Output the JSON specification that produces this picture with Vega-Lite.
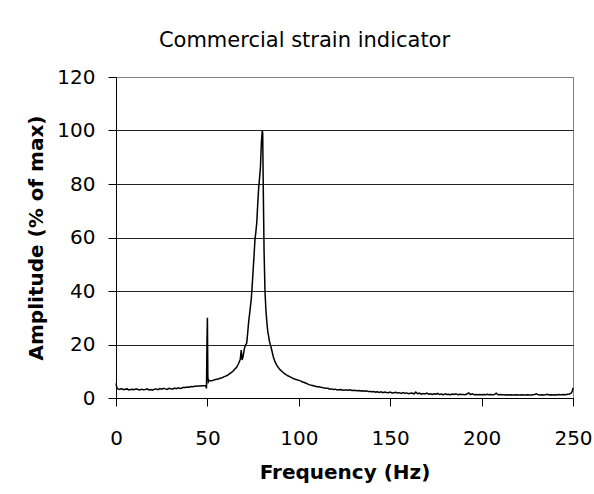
{
  "$schema": "https://vega.github.io/schema/vega-lite/v6.json",
  "width": 457,
  "height": 321,
  "autosize": {"type": "none"},
  "padding": {"left": 116, "top": 77, "right": 21, "bottom": 96},
  "background": "white",
  "title": {"text": "Commercial strain indicator", "fontSize": 21, "fontWeight": "normal", "font": "DejaVu Sans", "color": "black", "anchor": "middle", "dx": -40, "offset": 16},
  "data": {"values": [
    {"f":0,"a":5.5},{"f":0.5,"a":3.8},{"f":1,"a":3.4},{"f":2,"a":3.2},{"f":3,"a":3.5},{"f":4,"a":3.1},{"f":5,"a":3.3},{"f":6,"a":3.4},{"f":7,"a":3.0},{"f":8,"a":3.2},{"f":9,"a":3.3},{"f":10,"a":3.1},{"f":11,"a":3.4},{"f":12,"a":3.2},{"f":13,"a":3.0},{"f":14,"a":3.3},{"f":15,"a":3.1},{"f":16,"a":3.2},{"f":17,"a":3.4},{"f":18,"a":3.0},{"f":19,"a":3.2},{"f":20,"a":2.9},{"f":21,"a":3.3},{"f":22,"a":3.4},{"f":23,"a":3.1},{"f":24,"a":3.5},{"f":25,"a":3.3},{"f":26,"a":3.6},{"f":27,"a":3.4},{"f":28,"a":3.2},{"f":29,"a":3.6},{"f":30,"a":3.5},{"f":31,"a":3.3},{"f":32,"a":3.7},{"f":33,"a":3.5},{"f":34,"a":3.8},{"f":35,"a":3.6},{"f":36,"a":3.7},{"f":37,"a":4.0},{"f":38,"a":3.9},{"f":39,"a":4.1},{"f":40,"a":4.0},{"f":41,"a":4.3},{"f":42,"a":4.2},{"f":43,"a":4.4},{"f":44,"a":4.4},{"f":45,"a":4.5},{"f":46,"a":4.5},{"f":47,"a":4.6},{"f":48,"a":4.6},{"f":49,"a":4.6},{"f":49.5,"a":3.6},{"f":49.75,"a":20},{"f":50,"a":30},{"f":50.25,"a":8},{"f":50.5,"a":6.0},{"f":51,"a":6.6},{"f":52,"a":6.4},{"f":53,"a":6.6},{"f":54,"a":6.8},{"f":55,"a":7.0},{"f":56,"a":7.1},{"f":57,"a":7.4},{"f":58,"a":7.6},{"f":59,"a":7.9},{"f":60,"a":8.2},{"f":61,"a":8.5},{"f":62,"a":9.0},{"f":63,"a":9.5},{"f":64,"a":10.0},{"f":65,"a":10.8},{"f":66,"a":11.5},{"f":67,"a":12.8},{"f":68,"a":14.5},{"f":68.5,"a":17.9},{"f":69,"a":14.2},{"f":69.5,"a":15.5},{"f":70,"a":17.5},{"f":70.5,"a":19.2},{"f":71,"a":20},{"f":71.5,"a":20.5},{"f":72,"a":24},{"f":72.5,"a":28},{"f":73,"a":31},{"f":73.5,"a":34},{"f":74,"a":37},{"f":74.5,"a":42},{"f":75,"a":47.5},{"f":75.5,"a":53},{"f":76,"a":59},{"f":76.5,"a":62},{"f":77,"a":65.5},{"f":77.5,"a":72},{"f":78,"a":78},{"f":78.5,"a":82},{"f":79,"a":86},{"f":79.5,"a":95},{"f":80,"a":100},{"f":80.25,"a":99},{"f":80.5,"a":82},{"f":81,"a":55},{"f":81.5,"a":40},{"f":82,"a":33},{"f":82.5,"a":28.5},{"f":83,"a":25},{"f":83.5,"a":23},{"f":84,"a":21},{"f":85,"a":18.5},{"f":86,"a":15.5},{"f":87,"a":13.5},{"f":88,"a":12.2},{"f":89,"a":11.2},{"f":90,"a":10.4},{"f":91,"a":9.8},{"f":92,"a":9.2},{"f":93,"a":8.7},{"f":94,"a":8.3},{"f":95,"a":8.0},{"f":96,"a":7.6},{"f":97,"a":7.3},{"f":98,"a":7.0},{"f":99,"a":6.8},{"f":100,"a":6.6},{"f":101,"a":6.4},{"f":102,"a":6.0},{"f":103,"a":5.8},{"f":104,"a":5.5},{"f":105,"a":5.2},{"f":106,"a":4.9},{"f":107,"a":4.8},{"f":108,"a":4.6},{"f":109,"a":4.4},{"f":110,"a":4.2},{"f":111,"a":4.2},{"f":112,"a":4.0},{"f":113,"a":3.9},{"f":114,"a":3.7},{"f":115,"a":3.6},{"f":116,"a":3.6},{"f":117,"a":3.3},{"f":118,"a":3.4},{"f":119,"a":3.2},{"f":120,"a":3.3},{"f":121,"a":3.0},{"f":122,"a":3.1},{"f":123,"a":3.2},{"f":124,"a":2.9},{"f":125,"a":3.0},{"f":126,"a":3.0},{"f":127,"a":2.9},{"f":128,"a":3.1},{"f":129,"a":2.8},{"f":130,"a":2.9},{"f":131,"a":2.8},{"f":132,"a":2.7},{"f":133,"a":2.8},{"f":134,"a":2.6},{"f":135,"a":2.7},{"f":136,"a":2.5},{"f":137,"a":2.7},{"f":138,"a":2.4},{"f":139,"a":2.4},{"f":140,"a":2.3},{"f":141,"a":2.4},{"f":142,"a":2.2},{"f":143,"a":2.3},{"f":144,"a":2.1},{"f":145,"a":2.3},{"f":146,"a":2.0},{"f":147,"a":2.2},{"f":148,"a":2.1},{"f":149,"a":2.0},{"f":150,"a":2.2},{"f":151,"a":1.9},{"f":152,"a":2.0},{"f":153,"a":2.1},{"f":154,"a":1.9},{"f":155,"a":2.0},{"f":156,"a":1.7},{"f":157,"a":2.0},{"f":158,"a":1.8},{"f":159,"a":1.9},{"f":160,"a":1.6},{"f":161,"a":1.8},{"f":162,"a":1.9},{"f":163,"a":1.5},{"f":164,"a":2.2},{"f":165,"a":1.6},{"f":166,"a":1.8},{"f":167,"a":1.4},{"f":168,"a":1.7},{"f":169,"a":1.5},{"f":170,"a":1.8},{"f":171,"a":1.4},{"f":172,"a":1.6},{"f":173,"a":1.3},{"f":174,"a":1.6},{"f":175,"a":1.4},{"f":176,"a":1.7},{"f":177,"a":1.3},{"f":178,"a":1.5},{"f":179,"a":1.2},{"f":180,"a":1.6},{"f":181,"a":1.3},{"f":182,"a":1.4},{"f":183,"a":1.2},{"f":184,"a":1.5},{"f":185,"a":1.3},{"f":186,"a":1.6},{"f":187,"a":1.2},{"f":188,"a":1.4},{"f":189,"a":1.3},{"f":190,"a":1.3},{"f":191,"a":1.2},{"f":192,"a":1.5},{"f":193,"a":1.9},{"f":194,"a":1.3},{"f":195,"a":1.6},{"f":196,"a":1.2},{"f":197,"a":1.3},{"f":198,"a":1.2},{"f":199,"a":1.3},{"f":200,"a":1.2},{"f":201,"a":1.3},{"f":202,"a":1.2},{"f":203,"a":1.4},{"f":204,"a":1.2},{"f":205,"a":1.3},{"f":206,"a":1.2},{"f":207,"a":1.3},{"f":208,"a":1.8},{"f":209,"a":1.2},{"f":210,"a":1.3},{"f":211,"a":1.2},{"f":212,"a":1.2},{"f":213,"a":1.1},{"f":214,"a":1.2},{"f":215,"a":1.1},{"f":216,"a":1.2},{"f":217,"a":1.1},{"f":218,"a":1.1},{"f":219,"a":1.2},{"f":220,"a":1.1},{"f":221,"a":1.1},{"f":222,"a":1.2},{"f":223,"a":1.1},{"f":224,"a":1.1},{"f":225,"a":1.2},{"f":226,"a":1.1},{"f":227,"a":1.1},{"f":228,"a":1.2},{"f":229,"a":1.3},{"f":230,"a":1.6},{"f":231,"a":1.2},{"f":232,"a":1.1},{"f":233,"a":1.2},{"f":234,"a":1.1},{"f":235,"a":1.2},{"f":236,"a":1.4},{"f":237,"a":1.1},{"f":238,"a":1.2},{"f":239,"a":1.1},{"f":240,"a":1.2},{"f":241,"a":1.1},{"f":242,"a":1.3},{"f":243,"a":1.2},{"f":244,"a":1.2},{"f":245,"a":1.3},{"f":246,"a":1.2},{"f":247,"a":1.4},{"f":248,"a":1.5},{"f":249,"a":1.8},{"f":249.5,"a":2.4},{"f":250,"a":3.8}
  ]},
  "mark": {"type": "line", "color": "black", "strokeWidth": 1.5},
  "encoding": {
    "x": {
      "field": "f", "type": "quantitative",
      "scale": {"domain": [0, 250], "nice": false},
      "axis": {"values": [0, 50, 100, 150, 200, 250], "title": "Frequency (Hz)", "grid": false, "labelPadding": 22, "titlePadding": 14, "labelFlush": false, "labelOverlap": false}
    },
    "y": {
      "field": "a", "type": "quantitative",
      "scale": {"domain": [0, 120], "nice": false},
      "axis": {"values": [0, 20, 40, 60, 80, 100, 120], "title": "Amplitude (% of max)", "grid": true,
        "gridColor": {"condition": {"test": "datum.value == 120", "value": "#808080"}, "value": "#222222"},
        "labelPadding": 13, "titlePadding": 10, "labelFlush": false}
    }
  },
  "config": {
    "view": {"stroke": "#808080", "strokeWidth": 1},
    "axis": {"domainColor": "black", "domainWidth": 1, "tickColor": "black", "tickWidth": 1, "tickSize": 8, "gridWidth": 1, "gridOpacity": 1,
      "labelFontSize": 20, "labelColor": "black", "labelFont": "DejaVu Sans",
      "titleFontSize": 20, "titleFontWeight": "bold", "titleColor": "black", "titleFont": "DejaVu Sans"}
  }
}
